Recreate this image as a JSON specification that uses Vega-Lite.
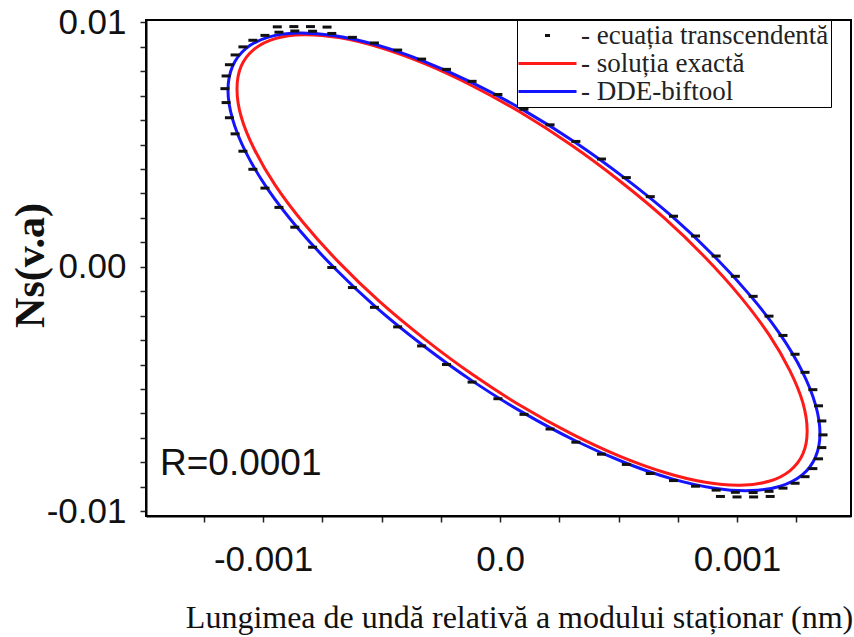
{
  "$schema": "https://vega.github.io/schema/vega-lite/v6.json",
  "width": 705,
  "height": 496,
  "autosize": "none",
  "padding": {"left": 146, "top": 20, "right": 3, "bottom": 121},
  "background": "white",
  "config": {
    "view": {"stroke": "black", "strokeWidth": 2},
    "axis": {"grid": false}
  },
  "data": {
    "values": [
      {"s": "DDE-biftool", "i": 0, "x": 0.001350, "y": -0.00682},
      {"s": "DDE-biftool", "i": 1, "x": 0.001331, "y": -0.00779},
      {"s": "DDE-biftool", "i": 2, "x": 0.001275, "y": -0.00852},
      {"s": "DDE-biftool", "i": 3, "x": 0.001183, "y": -0.00898},
      {"s": "DDE-biftool", "i": 4, "x": 0.001058, "y": -0.00916},
      {"s": "DDE-biftool", "i": 5, "x": 0.000904, "y": -0.00906},
      {"s": "DDE-biftool", "i": 6, "x": 0.000726, "y": -0.00868},
      {"s": "DDE-biftool", "i": 7, "x": 0.000528, "y": -0.00802},
      {"s": "DDE-biftool", "i": 8, "x": 0.000318, "y": -0.00712},
      {"s": "DDE-biftool", "i": 9, "x": 0.000101, "y": -0.00599},
      {"s": "DDE-biftool", "i": 10, "x": -0.000116, "y": -0.00468},
      {"s": "DDE-biftool", "i": 11, "x": -0.000326, "y": -0.00321},
      {"s": "DDE-biftool", "i": 12, "x": -0.000524, "y": -0.00165},
      {"s": "DDE-biftool", "i": 13, "x": -0.000702, "y": -0.00002},
      {"s": "DDE-biftool", "i": 14, "x": -0.000856, "y": 0.00161},
      {"s": "DDE-biftool", "i": 15, "x": -0.000981, "y": 0.00319},
      {"s": "DDE-biftool", "i": 16, "x": -0.001073, "y": 0.00469},
      {"s": "DDE-biftool", "i": 17, "x": -0.001129, "y": 0.00605},
      {"s": "DDE-biftool", "i": 18, "x": -0.001148, "y": 0.00723},
      {"s": "DDE-biftool", "i": 19, "x": -0.001129, "y": 0.00820},
      {"s": "DDE-biftool", "i": 20, "x": -0.001073, "y": 0.00893},
      {"s": "DDE-biftool", "i": 21, "x": -0.000981, "y": 0.00939},
      {"s": "DDE-biftool", "i": 22, "x": -0.000856, "y": 0.00957},
      {"s": "DDE-biftool", "i": 23, "x": -0.000702, "y": 0.00947},
      {"s": "DDE-biftool", "i": 24, "x": -0.000524, "y": 0.00909},
      {"s": "DDE-biftool", "i": 25, "x": -0.000326, "y": 0.00843},
      {"s": "DDE-biftool", "i": 26, "x": -0.000116, "y": 0.00753},
      {"s": "DDE-biftool", "i": 27, "x": 0.000101, "y": 0.00640},
      {"s": "DDE-biftool", "i": 28, "x": 0.000318, "y": 0.00509},
      {"s": "DDE-biftool", "i": 29, "x": 0.000528, "y": 0.00362},
      {"s": "DDE-biftool", "i": 30, "x": 0.000726, "y": 0.00206},
      {"s": "DDE-biftool", "i": 31, "x": 0.000904, "y": 0.00043},
      {"s": "DDE-biftool", "i": 32, "x": 0.001058, "y": -0.00120},
      {"s": "DDE-biftool", "i": 33, "x": 0.001183, "y": -0.00278},
      {"s": "DDE-biftool", "i": 34, "x": 0.001275, "y": -0.00428},
      {"s": "DDE-biftool", "i": 35, "x": 0.001331, "y": -0.00564},
      {"s": "soluția exactă", "i": 0, "x": 0.001296, "y": -0.00672},
      {"s": "soluția exactă", "i": 1, "x": 0.001278, "y": -0.00766},
      {"s": "soluția exactă", "i": 2, "x": 0.001223, "y": -0.00835},
      {"s": "soluția exactă", "i": 3, "x": 0.001135, "y": -0.00878},
      {"s": "soluția exactă", "i": 4, "x": 0.001015, "y": -0.00894},
      {"s": "soluția exactă", "i": 5, "x": 0.000866, "y": -0.00882},
      {"s": "soluția exactă", "i": 6, "x": 0.000695, "y": -0.00842},
      {"s": "soluția exactă", "i": 7, "x": 0.000504, "y": -0.00775},
      {"s": "soluția exactă", "i": 8, "x": 0.000302, "y": -0.00684},
      {"s": "soluția exactă", "i": 9, "x": 0.000093, "y": -0.00572},
      {"s": "soluția exactă", "i": 10, "x": -0.000116, "y": -0.00441},
      {"s": "soluția exactă", "i": 11, "x": -0.000318, "y": -0.00296},
      {"s": "soluția exactă", "i": 12, "x": -0.000509, "y": -0.00142},
      {"s": "soluția exactă", "i": 13, "x": -0.000680, "y": 0.00018},
      {"s": "soluția exactă", "i": 14, "x": -0.000829, "y": 0.00179},
      {"s": "soluția exactă", "i": 15, "x": -0.000949, "y": 0.00334},
      {"s": "soluția exactă", "i": 16, "x": -0.001037, "y": 0.00481},
      {"s": "soluția exactă", "i": 17, "x": -0.001092, "y": 0.00613},
      {"s": "soluția exactă", "i": 18, "x": -0.001110, "y": 0.00728},
      {"s": "soluția exactă", "i": 19, "x": -0.001092, "y": 0.00822},
      {"s": "soluția exactă", "i": 20, "x": -0.001037, "y": 0.00891},
      {"s": "soluția exactă", "i": 21, "x": -0.000949, "y": 0.00934},
      {"s": "soluția exactă", "i": 22, "x": -0.000829, "y": 0.00950},
      {"s": "soluția exactă", "i": 23, "x": -0.000680, "y": 0.00938},
      {"s": "soluția exactă", "i": 24, "x": -0.000509, "y": 0.00898},
      {"s": "soluția exactă", "i": 25, "x": -0.000318, "y": 0.00831},
      {"s": "soluția exactă", "i": 26, "x": -0.000116, "y": 0.00740},
      {"s": "soluția exactă", "i": 27, "x": 0.000093, "y": 0.00628},
      {"s": "soluția exactă", "i": 28, "x": 0.000302, "y": 0.00497},
      {"s": "soluția exactă", "i": 29, "x": 0.000504, "y": 0.00352},
      {"s": "soluția exactă", "i": 30, "x": 0.000695, "y": 0.00198},
      {"s": "soluția exactă", "i": 31, "x": 0.000866, "y": 0.00038},
      {"s": "soluția exactă", "i": 32, "x": 0.001015, "y": -0.00123},
      {"s": "soluția exactă", "i": 33, "x": 0.001135, "y": -0.00278},
      {"s": "soluția exactă", "i": 34, "x": 0.001223, "y": -0.00425},
      {"s": "soluția exactă", "i": 35, "x": 0.001278, "y": -0.00557},
      {"s": "ecuația transcendentă", "i": 0, "x": 0.001363, "y": -0.00688},
      {"s": "ecuația transcendentă", "i": 1, "x": 0.001358, "y": -0.00740},
      {"s": "ecuația transcendentă", "i": 2, "x": 0.001344, "y": -0.00786},
      {"s": "ecuația transcendentă", "i": 3, "x": 0.001320, "y": -0.00826},
      {"s": "ecuația transcendentă", "i": 4, "x": 0.001287, "y": -0.00859},
      {"s": "ecuația transcendentă", "i": 5, "x": 0.001245, "y": -0.00886},
      {"s": "ecuația transcendentă", "i": 6, "x": 0.001194, "y": -0.00906},
      {"s": "ecuația transcendentă", "i": 7, "x": 0.001135, "y": -0.00919},
      {"s": "ecuația transcendentă", "i": 8, "x": 0.001068, "y": -0.00924},
      {"s": "ecuația transcendentă", "i": 9, "x": 0.000993, "y": -0.00923},
      {"s": "ecuația transcendentă", "i": 10, "x": 0.000912, "y": -0.00914},
      {"s": "ecuația transcendentă", "i": 11, "x": 0.000825, "y": -0.00898},
      {"s": "ecuația transcendentă", "i": 12, "x": 0.000732, "y": -0.00875},
      {"s": "ecuația transcendentă", "i": 13, "x": 0.000634, "y": -0.00846},
      {"s": "ecuația transcendentă", "i": 14, "x": 0.000533, "y": -0.00809},
      {"s": "ecuația transcendentă", "i": 15, "x": 0.000428, "y": -0.00767},
      {"s": "ecuația transcendentă", "i": 16, "x": 0.000320, "y": -0.00718},
      {"s": "ecuația transcendentă", "i": 17, "x": 0.000211, "y": -0.00664},
      {"s": "ecuația transcendentă", "i": 18, "x": 0.000101, "y": -0.00604},
      {"s": "ecuația transcendentă", "i": 19, "x": -0.000009, "y": -0.00540},
      {"s": "ecuația transcendentă", "i": 20, "x": -0.000118, "y": -0.00472},
      {"s": "ecuația transcendentă", "i": 21, "x": -0.000226, "y": -0.00400},
      {"s": "ecuația transcendentă", "i": 22, "x": -0.000331, "y": -0.00324},
      {"s": "ecuația transcendentă", "i": 23, "x": -0.000432, "y": -0.00246},
      {"s": "ecuația transcendentă", "i": 24, "x": -0.000530, "y": -0.00166},
      {"s": "ecuația transcendentă", "i": 25, "x": -0.000623, "y": -0.00085},
      {"s": "ecuația transcendentă", "i": 26, "x": -0.000710, "y": -0.00003},
      {"s": "ecuația transcendentă", "i": 27, "x": -0.000791, "y": 0.00080},
      {"s": "ecuația transcendentă", "i": 28, "x": -0.000866, "y": 0.00162},
      {"s": "ecuația transcendentă", "i": 29, "x": -0.000933, "y": 0.00243},
      {"s": "ecuația transcendentă", "i": 30, "x": -0.000992, "y": 0.00322},
      {"s": "ecuația transcendentă", "i": 31, "x": -0.001043, "y": 0.00399},
      {"s": "ecuația transcendentă", "i": 32, "x": -0.001085, "y": 0.00473},
      {"s": "ecuația transcendentă", "i": 33, "x": -0.001118, "y": 0.00544},
      {"s": "ecuația transcendentă", "i": 34, "x": -0.001142, "y": 0.00610},
      {"s": "ecuația transcendentă", "i": 35, "x": -0.001156, "y": 0.00672},
      {"s": "ecuația transcendentă", "i": 36, "x": -0.001161, "y": 0.00729},
      {"s": "ecuația transcendentă", "i": 37, "x": -0.001156, "y": 0.00781},
      {"s": "ecuația transcendentă", "i": 38, "x": -0.001142, "y": 0.00827},
      {"s": "ecuația transcendentă", "i": 39, "x": -0.001118, "y": 0.00867},
      {"s": "ecuația transcendentă", "i": 40, "x": -0.001085, "y": 0.00900},
      {"s": "ecuația transcendentă", "i": 41, "x": -0.001043, "y": 0.00927},
      {"s": "ecuația transcendentă", "i": 42, "x": -0.000992, "y": 0.00947},
      {"s": "ecuația transcendentă", "i": 43, "x": -0.000933, "y": 0.00960},
      {"s": "ecuația transcendentă", "i": 44, "x": -0.000866, "y": 0.00965},
      {"s": "ecuația transcendentă", "i": 45, "x": -0.000791, "y": 0.00964},
      {"s": "ecuația transcendentă", "i": 46, "x": -0.000710, "y": 0.00955},
      {"s": "ecuația transcendentă", "i": 47, "x": -0.000623, "y": 0.00939},
      {"s": "ecuația transcendentă", "i": 48, "x": -0.000530, "y": 0.00916},
      {"s": "ecuația transcendentă", "i": 49, "x": -0.000432, "y": 0.00887},
      {"s": "ecuația transcendentă", "i": 50, "x": -0.000331, "y": 0.00850},
      {"s": "ecuația transcendentă", "i": 51, "x": -0.000226, "y": 0.00808},
      {"s": "ecuația transcendentă", "i": 52, "x": -0.000118, "y": 0.00759},
      {"s": "ecuația transcendentă", "i": 53, "x": -0.000009, "y": 0.00705},
      {"s": "ecuația transcendentă", "i": 54, "x": 0.000101, "y": 0.00645},
      {"s": "ecuația transcendentă", "i": 55, "x": 0.000211, "y": 0.00581},
      {"s": "ecuația transcendentă", "i": 56, "x": 0.000320, "y": 0.00513},
      {"s": "ecuația transcendentă", "i": 57, "x": 0.000428, "y": 0.00441},
      {"s": "ecuația transcendentă", "i": 58, "x": 0.000533, "y": 0.00365},
      {"s": "ecuația transcendentă", "i": 59, "x": 0.000634, "y": 0.00287},
      {"s": "ecuația transcendentă", "i": 60, "x": 0.000732, "y": 0.00207},
      {"s": "ecuația transcendentă", "i": 61, "x": 0.000825, "y": 0.00126},
      {"s": "ecuația transcendentă", "i": 62, "x": 0.000912, "y": 0.00044},
      {"s": "ecuația transcendentă", "i": 63, "x": 0.000993, "y": -0.00039},
      {"s": "ecuația transcendentă", "i": 64, "x": 0.001068, "y": -0.00121},
      {"s": "ecuația transcendentă", "i": 65, "x": 0.001135, "y": -0.00202},
      {"s": "ecuația transcendentă", "i": 66, "x": 0.001194, "y": -0.00281},
      {"s": "ecuația transcendentă", "i": 67, "x": 0.001245, "y": -0.00358},
      {"s": "ecuația transcendentă", "i": 68, "x": 0.001287, "y": -0.00432},
      {"s": "ecuația transcendentă", "i": 69, "x": 0.001320, "y": -0.00503},
      {"s": "ecuația transcendentă", "i": 70, "x": 0.001344, "y": -0.00569},
      {"s": "ecuația transcendentă", "i": 71, "x": 0.001358, "y": -0.00631},
      {"s": "ecuația transcendentă", "i": 72, "x": -0.000940, "y": 0.00982},
      {"s": "ecuația transcendentă", "i": 73, "x": -0.000870, "y": 0.00983},
      {"s": "ecuația transcendentă", "i": 74, "x": -0.000800, "y": 0.00983},
      {"s": "ecuația transcendentă", "i": 75, "x": -0.000730, "y": 0.00981},
      {"s": "ecuația transcendentă", "i": 76, "x": 0.000930, "y": -0.00940},
      {"s": "ecuația transcendentă", "i": 77, "x": 0.001000, "y": -0.00942},
      {"s": "ecuația transcendentă", "i": 78, "x": 0.001070, "y": -0.00942},
      {"s": "ecuația transcendentă", "i": 79, "x": 0.001140, "y": -0.00940}
    ]
  },
  "encoding": {
    "x": {
      "field": "x",
      "type": "quantitative",
      "scale": {"domain": [-0.001494, 0.001481], "nice": false, "zero": false},
      "axis": {
        "orient": "bottom",
        "values": [-0.00125, -0.001, -0.00075, -0.0005, -0.00025, 0, 0.00025, 0.0005, 0.00075, 0.001, 0.00125],
        "labelExpr": "(datum.value > -0.00101 && datum.value < -0.00099) ? '-0.001' : (abs(datum.value) < 0.0000001 ? '0.0' : ((datum.value > 0.00099 && datum.value < 0.00101) ? '0.001' : ''))",
        "labelFont": "Liberation Sans",
        "labelFontSize": 35,
        "labelColor": "#111",
        "labelPadding": 20,
        "labelOverlap": false,
        "labelFlush": false,
        "tickSize": 6,
        "tickWidth": 1.5,
        "tickColor": "#222",
        "domainColor": "black",
        "domainWidth": 2,
        "title": "Lungimea de undă relativă a modului staționar (nm)",
        "titleFont": "Liberation Serif",
        "titleFontSize": 32,
        "titleFontWeight": "normal",
        "titleColor": "#111",
        "titleX": 373,
        "titleY": 111,
        "titleAlign": "center",
        "titleBaseline": "alphabetic"
      }
    },
    "y": {
      "field": "y",
      "type": "quantitative",
      "scale": {"domain": [-0.0102, 0.0101], "nice": false, "zero": false},
      "axis": {
        "orient": "left",
        "values": [-0.01, -0.009, -0.008, -0.007, -0.006, -0.005, -0.004, -0.003, -0.002, -0.001, 0, 0.001, 0.002, 0.003, 0.004, 0.005, 0.006, 0.007, 0.008, 0.009, 0.01],
        "labelExpr": "datum.value > 0.0099 ? '0.01' : (datum.value < -0.0099 ? '-0.01' : (abs(datum.value) < 0.000001 ? '0.00' : ''))",
        "labelFont": "Liberation Sans",
        "labelFontSize": 35,
        "labelColor": "#111",
        "labelPadding": 14,
        "labelBaseline": "middle",
        "labelOverlap": false,
        "labelFlush": false,
        "tickSize": 6,
        "tickWidth": 1.5,
        "tickColor": "#222",
        "domainColor": "black",
        "domainWidth": 2,
        "title": "Ns(v.a)",
        "titleFont": "Liberation Serif",
        "titleFontSize": 42,
        "titleFontWeight": "bold",
        "titleColor": "#111",
        "titleAngle": -90,
        "titleX": -116,
        "titleY": 245,
        "titleAlign": "center",
        "titleBaseline": "middle"
      }
    }
  },
  "layer": [
    {
      "transform": [{"filter": "datum.s === 'soluția exactă'"}],
      "mark": {"type": "line", "interpolate": "cardinal-closed", "strokeWidth": 3},
      "encoding": {
        "order": {"field": "i", "type": "quantitative"},
        "color": {
          "field": "s",
          "type": "nominal",
          "scale": {
            "domain": ["ecuația transcendentă", "soluția exactă", "DDE-biftool"],
            "range": ["#111111", "#ff1a1a", "#1414ff"]
          },
          "legend": {
            "orient": "none",
            "legendX": 371,
            "legendY": 0,
            "title": null,
            "labelFont": "Liberation Serif",
            "labelFontSize": 27,
            "labelColor": "#222",
            "labelLimit": 400,
            "labelExpr": "'- ' + datum.label",
            "symbolSize": 100,
            "symbolStrokeWidth": 3,
            "symbolOffset": 15,
            "labelOffset": 20,
            "rowPadding": 0,
            "padding": 2,
            "strokeColor": "black",
            "fillColor": "white"
          }
        }
      }
    },
    {
      "transform": [{"filter": "datum.s === 'DDE-biftool'"}],
      "mark": {"type": "line", "interpolate": "cardinal-closed", "strokeWidth": 3},
      "encoding": {
        "order": {"field": "i", "type": "quantitative"},
        "color": {
          "field": "s",
          "type": "nominal",
          "scale": {
            "domain": ["ecuația transcendentă", "soluția exactă", "DDE-biftool"],
            "range": ["#111111", "#ff1a1a", "#1414ff"]
          }
        }
      }
    },
    {
      "transform": [{"filter": "datum.s === 'ecuația transcendentă'"}],
      "mark": {"type": "point", "filled": false, "strokeWidth": 3, "size": 324, "opacity": 1},
      "encoding": {
        "color": {
          "field": "s",
          "type": "nominal",
          "scale": {
            "domain": ["ecuația transcendentă", "soluția exactă", "DDE-biftool"],
            "range": ["#111111", "#ff1a1a", "#1414ff"]
          }
        },
        "shape": {
          "field": "s",
          "type": "nominal",
          "scale": {
            "domain": ["ecuația transcendentă", "soluția exactă", "DDE-biftool"],
            "range": ["M-0.5,0H0.5", "M-5.8,0H5.8", "M-5.8,0H5.8"]
          },
          "legend": {
            "orient": "none",
            "legendX": 371,
            "legendY": 0,
            "title": null,
            "labelFont": "Liberation Serif",
            "labelFontSize": 27,
            "labelColor": "#222",
            "labelLimit": 400,
            "labelExpr": "'- ' + datum.label",
            "symbolSize": 100,
            "symbolStrokeWidth": 3,
            "symbolOffset": 15,
            "labelOffset": 20,
            "rowPadding": 0,
            "padding": 2,
            "strokeColor": "black",
            "fillColor": "white"
          }
        }
      }
    },
    {
      "data": {"values": [{"t": "R=0.0001", "x": -0.001435, "y": -0.00806}]},
      "mark": {"type": "text", "font": "Liberation Sans", "fontSize": 37, "align": "left", "baseline": "middle", "color": "#111"},
      "encoding": {
        "text": {"field": "t", "type": "nominal"}
      }
    }
  ]
}
